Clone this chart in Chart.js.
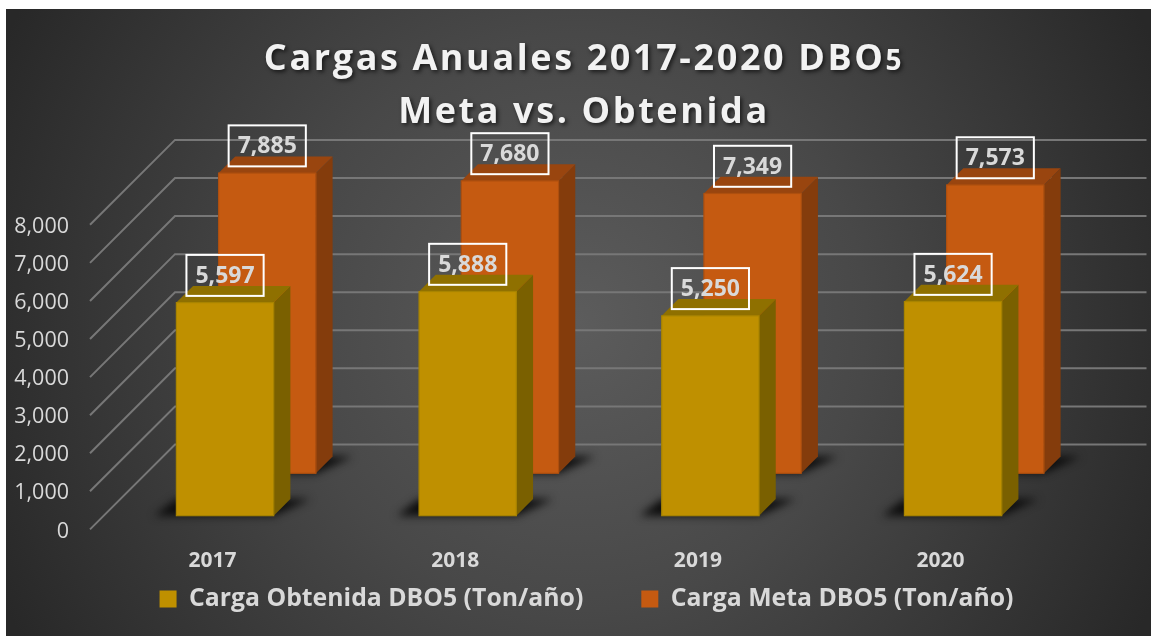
<!DOCTYPE html>
<html>
<head>
<meta charset="utf-8">
<script src="https://cdn.jsdelivr.net/npm/chart.js@4"></script>
<style>html,body{margin:0;padding:0;background:#fff;overflow:hidden}canvas{display:block}</style>
</head>
<body>
<canvas id="c" width="1151" height="636"></canvas>
<script>
const categories = ['2017', '2018', '2019', '2020'];
const cargaObtenida = [5597, 5888, 5250, 5624];
const cargaMeta = [7885, 7680, 7349, 7573];
const seriesNames = ['Carga Obtenida DBO5 (Ton/año)', 'Carga Meta DBO5 (Ton/año)'];
const titleLine1 = 'Cargas Anuales 2017-2020 DBO';
const titleSub = '5';
const titleLine2 = 'Meta vs. Obtenida';
const axisMax = 8000;
const axisStep = 1000;

const FONT = '"Open Sans", sans-serif';
const TEXT = '#d9d9d9';
const DEPTH = 16.7;
const UNIT = 304.6;
const FRONT_BASE = 515.7, BACK_BASE = 473.3, WALL_BASE = 444.5, LABEL_BASE = 531.4;
const X_LEFT = 103.7, X_WIDTH = 970.7, BACK_SHIFT = 42.2;
const WALL_LEFT = 175, WALL_RIGHT = 1146.5, SIDE_LEFT = 90, SIDE_DROP = 84.9;
const LEGEND_CENTER_Y = 599, LEGEND_SHIFT = -19, LEGEND_PAD = 58, LEGEND_SIZE = 24.8;
const faces = [
  {side: '#7a6000', top: '#8f7000', edge: '#a88400'},
  {side: '#843c0c', top: '#99450f', edge: '#ad4f0f'}
];

function place(s, left, right, top, bottom) {
  s.left = left; s.right = right; s.top = top; s.bottom = bottom;
  s.width = right - left; s.height = bottom - top;
  s.configure();
}

const scene = {
  id: 'scene',
  afterLayout(chart) {
    const s = chart.scales;
    place(s.x, X_LEFT, X_LEFT + X_WIDTH, FRONT_BASE, FRONT_BASE + 62);
    place(s.xBack, X_LEFT + BACK_SHIFT, X_LEFT + X_WIDTH + BACK_SHIFT, BACK_BASE, BACK_BASE + 1);
    place(s.y, 0, 69, LABEL_BASE - UNIT, LABEL_BASE);
    place(s.yFront, 70, 71, FRONT_BASE - UNIT, FRONT_BASE);
    place(s.yBack, 70, 71, BACK_BASE - UNIT, BACK_BASE);
    place(s.yWall, 70, 71, WALL_BASE - UNIT, WALL_BASE);
    const l = chart.legend;
    l.left += LEGEND_SHIFT; l.right += LEGEND_SHIFT;
    const h = l.height;
    l.top = LEGEND_CENTER_Y - LEGEND_PAD - LEGEND_SIZE / 2;
    l.bottom = l.top + h;
  },
  beforeDraw(chart) {
    const c = chart.ctx;
    c.save();
    c.fillStyle = '#fff';
    c.fillRect(0, 0, chart.width, chart.height);
    const g = c.createRadialGradient(578, 322, 0, 578, 322, 640);
    g.addColorStop(0, '#5c5c5c');
    g.addColorStop(0.45, '#484848');
    g.addColorStop(1, '#282828');
    c.fillStyle = g;
    c.fillRect(6, 9, chart.width - 6, chart.height - 9);
    c.restore();
  },
  beforeDatasetsDraw(chart) {
    const c = chart.ctx, s = chart.scales;
    c.save();
    c.strokeStyle = '#777777';
    c.lineWidth = 2;
    s.yWall.ticks.forEach(t => {
      const yb = s.yWall.getPixelForValue(t.value);
      c.beginPath();
      c.moveTo(SIDE_LEFT, yb + SIDE_DROP);
      c.lineTo(WALL_LEFT, yb);
      c.lineTo(WALL_RIGHT, yb);
      c.stroke();
    });
    c.restore();
  },
  beforeDatasetDraw(chart, args) {
    const c = chart.ctx;
    c.save();
    c.filter = 'blur(4px)';
    c.fillStyle = '#0c0c0c';
    args.meta.data.forEach(b => {
      const l = b.x - b.width / 2, r = b.x + b.width / 2;
      c.beginPath();
      c.moveTo(l - 22, b.base);
      c.lineTo(r, b.base);
      c.lineTo(r + DEPTH + 20, b.base - DEPTH);
      c.lineTo(l, b.base - DEPTH);
      c.closePath();
      c.fill();
    });
    c.restore();
  },
  afterDatasetDraw(chart, args) {
    const c = chart.ctx, f = faces[args.index];
    c.save();
    args.meta.data.forEach(b => {
      const l = b.x - b.width / 2, r = b.x + b.width / 2;
      c.fillStyle = f.side;
      c.beginPath();
      c.moveTo(r, b.y); c.lineTo(r + DEPTH, b.y - DEPTH);
      c.lineTo(r + DEPTH, b.base - DEPTH); c.lineTo(r, b.base);
      c.closePath(); c.fill();
      c.fillStyle = f.top;
      c.beginPath();
      c.moveTo(l, b.y); c.lineTo(l + DEPTH, b.y - DEPTH);
      c.lineTo(r + DEPTH, b.y - DEPTH); c.lineTo(r, b.y);
      c.closePath(); c.fill();
      c.strokeStyle = f.edge;
      c.lineWidth = 1.2;
      c.strokeRect(l, b.y, b.width, b.base - b.y);
    });
    c.restore();
  },
  afterDatasetsDraw(chart) {
    const c = chart.ctx;
    c.save();
    chart.data.datasets.forEach((d, i) => {
      chart.getDatasetMeta(i).data.forEach((b, j) => {
        const cy = b.y - 27.2;
        c.strokeStyle = '#ffffff';
        c.lineWidth = 2;
        c.strokeRect(b.x - 38.6, cy - 20.5, 77.2, 41);
        c.fillStyle = TEXT;
        c.font = 'bold 23px ' + FONT;
        c.textAlign = 'center';
        c.textBaseline = 'middle';
        c.fillText(d.data[j].toLocaleString('en-US'), b.x, cy + 1);
      });
    });
    c.restore();
  },
  afterDraw(chart) {
    const c = chart.ctx, cx = 584;
    c.save();
    c.fillStyle = '#f2f2f2';
    c.shadowColor = 'rgba(0,0,0,0.65)';
    c.shadowBlur = 4;
    c.shadowOffsetX = 2;
    c.shadowOffsetY = 2;
    c.textBaseline = 'alphabetic';
    c.textAlign = 'left';
    c.letterSpacing = '2.6px';
    const big = 'bold 36px ' + FONT, small = 'bold 28px ' + FONT;
    c.font = big;
    const w1 = c.measureText(titleLine1).width;
    c.font = small;
    const w2 = c.measureText(titleSub).width;
    const x0 = cx - (w1 + w2) / 2;
    c.font = big;
    c.fillText(titleLine1, x0, 70);
    c.font = small;
    c.fillText(titleSub, x0 + w1, 70);
    c.font = big;
    c.fillText(titleLine2, cx - c.measureText(titleLine2).width / 2, 122.5);
    c.restore();
  }
};

new Chart(document.getElementById('c'), {
  type: 'bar',
  data: {
    labels: categories,
    datasets: [
      {label: seriesNames[0], data: cargaObtenida, backgroundColor: '#bf9000', borderWidth: 0,
       xAxisID: 'x', yAxisID: 'yFront', clip: false, grouped: false, barPercentage: 1, categoryPercentage: 0.401},
      {label: seriesNames[1], data: cargaMeta, backgroundColor: '#c55a11', borderWidth: 0,
       xAxisID: 'xBack', yAxisID: 'yBack', clip: false, grouped: false, barPercentage: 1, categoryPercentage: 0.401}
    ]
  },
  plugins: [scene],
  options: {
    responsive: false,
    animation: false,
    layout: {padding: {top: 130, left: 70, right: 10, bottom: 10}},
    plugins: {
      title: {display: false, text: [titleLine1 + titleSub, titleLine2]},
      tooltip: {enabled: false},
      legend: {
        display: true,
        position: 'bottom',
        labels: {boxWidth: 17, boxHeight: 17, padding: LEGEND_PAD, color: TEXT, font: {family: FONT, size: LEGEND_SIZE, weight: 'bold'}}
      }
    },
    scales: {
      x: {type: 'category', position: 'bottom', offset: true,
          grid: {display: false, drawTicks: false}, border: {display: false},
          ticks: {color: TEXT, font: {family: FONT, size: 21, weight: 'bold'}, padding: 33, labelOffset: -12.5, maxRotation: 0, autoSkip: false}},
      xBack: {type: 'category', position: 'bottom', offset: true, display: false},
      y: {type: 'linear', position: 'left', min: 0, max: axisMax,
          grid: {display: false, drawTicks: false}, border: {display: false},
          ticks: {stepSize: axisStep, color: TEXT, padding: 0, font: {family: FONT, size: 21.5},
                  callback: v => v.toLocaleString('en-US')}},
      yFront: {type: 'linear', position: 'left', min: 0, max: axisMax, display: false},
      yBack: {type: 'linear', position: 'left', min: 0, max: axisMax, display: false},
      yWall: {type: 'linear', position: 'left', min: 0, max: axisMax, display: false, ticks: {stepSize: axisStep}}
    }
  }
});
</script>
</body>
</html>
